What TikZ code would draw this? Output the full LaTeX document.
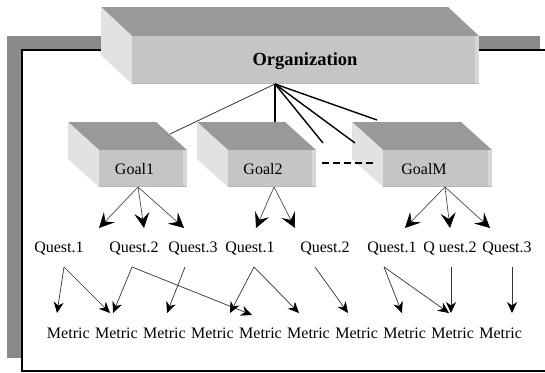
\documentclass[tikz,border=0pt]{standalone}
\usepackage{fontspec}
\setmainfont{Liberation Serif}
\usetikzlibrary{arrows.meta}
\definecolor{frameGray}{RGB}{138,138,138}
\definecolor{topGray}{RGB}{153,153,153}
\definecolor{sideGray}{RGB}{226,226,226}
\definecolor{frontGray}{RGB}{197,197,197}
\definecolor{stripGray}{RGB}{216,216,216}
\definecolor{edgeGray}{RGB}{180,180,180}
% 3-D box: front face x #1..#2, y #3..#4, depth (#5,#6)
\newcommand{\boxthreed}[6]{%
  \fill[topGray] (#1-#5,#3-#6) -- (#2-#5,#3-#6) -- (#2,#3) -- (#1,#3) -- cycle;
  \fill[sideGray] (#1-#5,#3-#6) -- (#1,#3) -- (#1,#4) -- (#1-#5,#4-#6) -- cycle;
  \fill[frontGray] (#1,#3) rectangle (#2,#4);
  \fill[stripGray] (#2-4,#3) rectangle (#2,#4);
  \fill[edgeGray] (#1,#4-1.5) rectangle (#2,#4);
}
\begin{document}
\begin{tikzpicture}[x=1pt,y=-1pt,
  lbl/.style={inner sep=0pt, font=\fontsize{16}{16}\selectfont},
  orglbl/.style={inner sep=0pt, font=\fontsize{18.5}{18.5}\selectfont\bfseries},
  orgline/.style={line width=1.4pt},
  bigarrow/.style={draw=black!70, line width=0.7pt, -{Stealth[length=15pt,width=15pt,inset=6pt,color=black,fill=black]}},
  smallarrow/.style={draw=black!80, line width=0.7pt, -{Stealth[length=11pt,width=10pt,inset=3.5pt,color=black,fill=black]}}]
\useasboundingbox (0,0) rectangle (545,372);
% frame
\fill[frameGray] (7,36) rectangle (540,358);
\draw[line width=2pt, fill=white] (22,50) rectangle (560,371);
% organization box
\boxthreed{132}{479}{36}{84}{31}{29}
\node[orglbl] (org) at (305,61) {Organization};
% goal boxes
\boxthreed{99}{187}{150}{187}{31}{28}
\boxthreed{228}{316}{150}{187}{31}{28}
\boxthreed{383}{492}{150}{187}{31}{28}
\node[lbl] (g1) at (134.5,169) {Goal1};
\node[lbl] (g2) at (263,169) {Goal2};
\node[lbl] (gm) at (424,169) {GoalM};
% connector points
\coordinate (oapex) at (275,84);
\coordinate (g1top) at (170,134);
\coordinate (g2top) at (275,122);
\coordinate (gxend) at (323,143);
\coordinate (gmside) at (355,143);
\coordinate (gmtop) at (377,120);
\coordinate (dashA) at (322,163);
\coordinate (dashB) at (373,163);
\draw[line width=0.8pt, black!80] (oapex) -- (g1top);
\draw[orgline] (oapex) -- (g2top);
\draw[orgline] (oapex) -- (gxend);
\draw[orgline] (oapex) -- (gmside);
\draw[orgline] (oapex) -- (gmtop);
\draw[line width=1.5pt, dash pattern=on 7pt off 4pt] (dashA) -- (dashB);
% questions
\node[lbl] (q1) at (59,248) {Quest.1};
\node[lbl] (q2) at (134,248) {Quest.2};
\node[lbl] (q3) at (193,248) {Quest.3};
\node[lbl] (q4) at (250,248) {Quest.1};
\node[lbl] (q5) at (325,248) {Quest.2};
\node[lbl] (q6) at (392,248) {Quest.1};
\node[lbl] (q7) at (450,248) {Q uest.2};
\node[lbl] (q8) at (507,248) {Quest.3};
% goal -> question arrows
\coordinate (g1b) at (138,187);
\coordinate (g2b) at (274,187);
\coordinate (gmb) at (445,187);
\coordinate (t1) at (99,228);
\coordinate (t2) at (144,228);
\coordinate (t3) at (184,228);
\coordinate (t4) at (256,228);
\coordinate (t5) at (295,228);
\coordinate (t6) at (405,228);
\coordinate (t7) at (450,228);
\coordinate (t8) at (490,228);
\draw[bigarrow] (g1b) -- (t1);
\draw[bigarrow] (g1b) -- (t2);
\draw[bigarrow] (g1b) -- (t3);
\draw[bigarrow] (g2b) -- (t4);
\draw[bigarrow] (g2b) -- (t5);
\draw[bigarrow] (gmb) -- (t6);
\draw[bigarrow] (gmb) -- (t7);
\draw[bigarrow] (gmb) -- (t8);
% metrics
\foreach \i/\x in {1/68.3,2/116.4,3/164.4,4/212.4,5/260.5,6/308.5,7/356.6,8/404.6,9/452.6,10/500.7}
  \node[lbl] (m\i) at (\x,333) {Metric};
% question -> metric arrows
\coordinate (q1a) at (64,267);
\coordinate (q2a) at (132,267);
\coordinate (q3a) at (185,267);
\coordinate (q4a) at (254,267);
\coordinate (q5a) at (315,267);
\coordinate (q6a) at (384,267);
\coordinate (q7a) at (451,267);
\coordinate (q8a) at (512,267);
\coordinate (e1) at (57,313);
\coordinate (e2) at (110,313);
\coordinate (e3) at (113,313);
\coordinate (e4) at (252,315);
\coordinate (e5) at (167,313);
\coordinate (e6) at (230,313);
\coordinate (e7) at (299,313);
\coordinate (e8) at (348,313);
\coordinate (e9) at (402,313);
\coordinate (e10) at (449,313);
\coordinate (e11) at (451,313);
\coordinate (e12) at (512,313);
\draw[smallarrow] (q1a) -- (e1);
\draw[smallarrow] (q1a) -- (e2);
\draw[smallarrow] (q2a) -- (e3);
\draw[smallarrow] (q2a) -- (e4);
\draw[smallarrow] (q3a) -- (e5);
\draw[smallarrow] (q4a) -- (e6);
\draw[smallarrow] (q4a) -- (e7);
\draw[smallarrow] (q5a) -- (e8);
\draw[smallarrow] (q6a) -- (e9);
\draw[smallarrow] (q6a) -- (e10);
\draw[smallarrow] (q7a) -- (e11);
\draw[smallarrow] (q8a) -- (e12);
\end{tikzpicture}
\end{document}
